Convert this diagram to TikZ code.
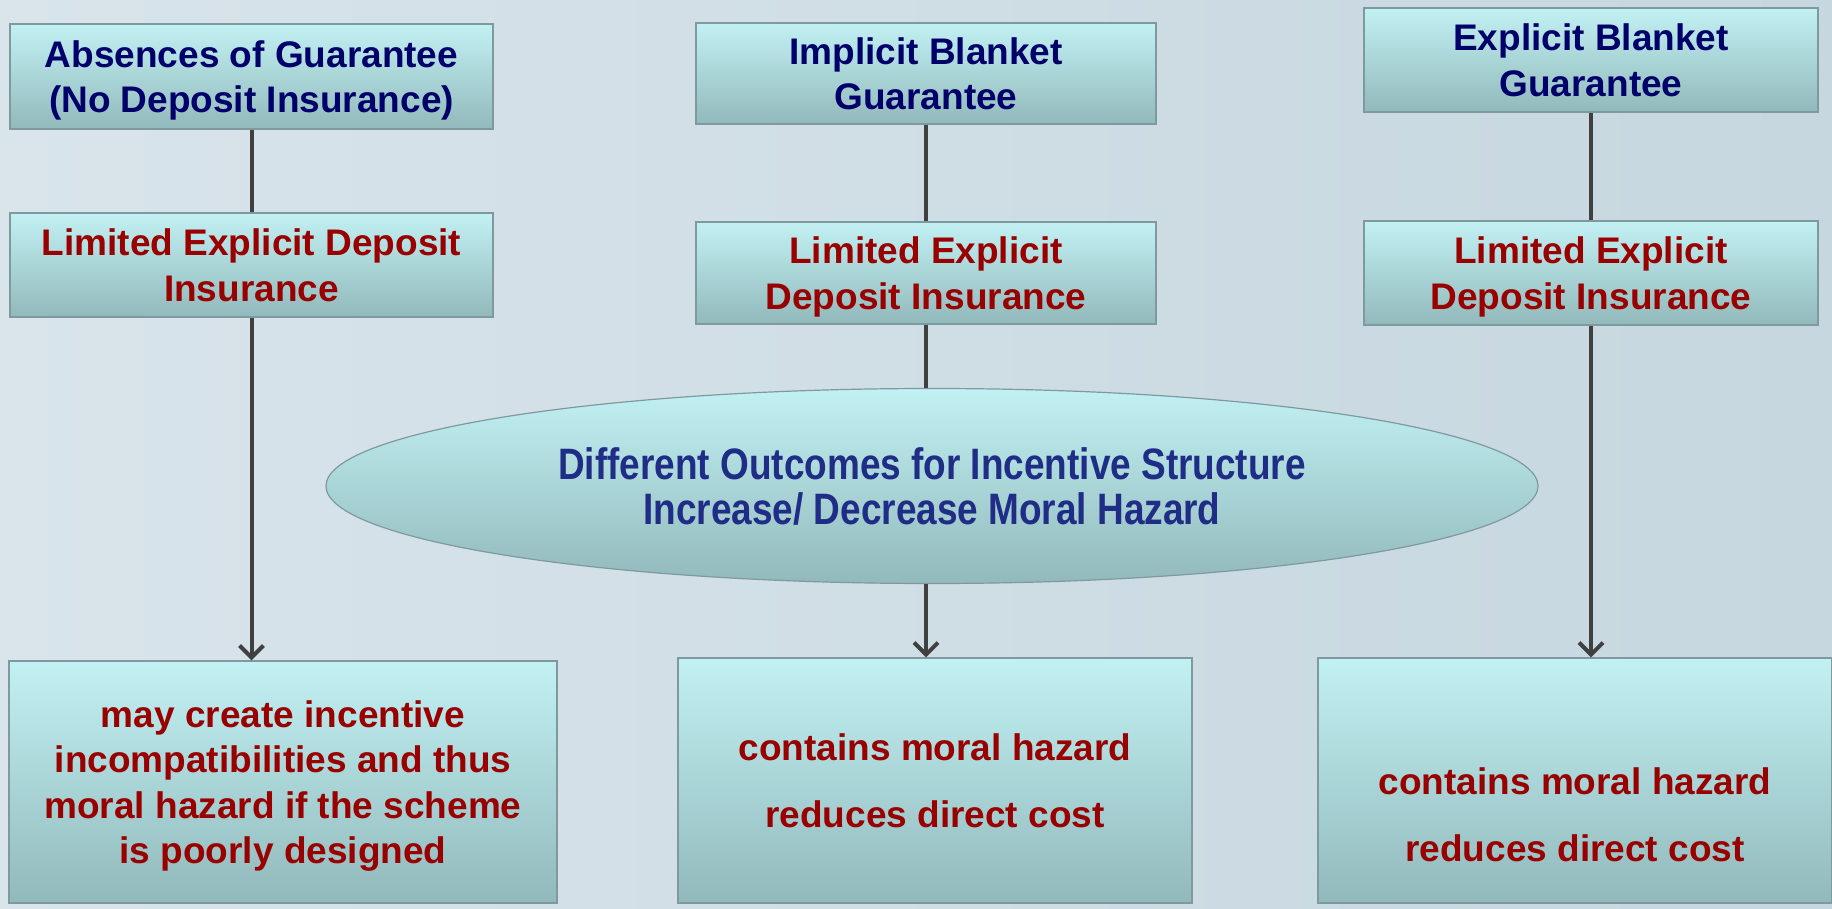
\documentclass[tikz,border=0pt]{standalone}
\usepackage{fontspec}
\setmainfont{Liberation Sans}
\newfontfamily\narrowfont{Liberation Sans}[FakeStretch=0.84]
\usetikzlibrary{arrows.meta,shapes.geometric}
\definecolor{bgleft}{HTML}{D9E4EB}
\definecolor{bgright}{HTML}{C6D7DF}
\definecolor{boxtop}{HTML}{C2F1F3}
\definecolor{boxbottom}{HTML}{92B9BC}
\definecolor{boxedge}{HTML}{7E9A9E}
\definecolor{navytext}{HTML}{00006A}
\definecolor{redtext}{HTML}{990000}
\definecolor{outcometext}{HTML}{1F2D86}
\definecolor{linkcolor}{HTML}{404040}
\tikzset{
    box color/.style={top color=boxtop,bottom color=boxbottom,draw=boxedge,line width=.6pt},
    box/.style={box color,rectangle,align=center,inner sep=0pt,text depth=0pt,
        font=\fontsize{18.5}{22.8}\selectfont\bfseries},
    guarantee/.style={box,text=navytext},
    scheme/.style={box,text=redtext},
    outcome box/.style={box color,ellipse,align=center,inner sep=0pt,text depth=0pt,text=outcometext,
        font=\narrowfont\fontsize{22}{22.5}\selectfont\bfseries},
    link/.style={draw=linkcolor,line width=2pt},
    arr/.style={link,-{Straight Barb[length=6pt,width=12pt]}},
}

\begin{document}
\begin{tikzpicture}[x=.5pt,y=-.5pt]
        \useasboundingbox (0,0) rectangle (1832,909);
        \shade[left color=bgleft,right color=bgright] (0,0) rectangle (1832,909);

        % top row: kind of guarantee
        \node[guarantee,minimum width=241.5pt,minimum height=52.5pt] (absence) at (251.5,76.5)
            {Absences of Guarantee\\(No Deposit Insurance)};
        \node[guarantee,minimum width=230pt,minimum height=50.5pt] (implicit) at (926,73.5)
            {Implicit Blanket\\Guarantee};
        \node[guarantee,minimum width=227pt,minimum height=52pt] (explicit) at (1591,60)
            {Explicit Blanket\\Guarantee};

        % second row: limited explicit deposit insurance
        \node[scheme,minimum width=241.5pt,minimum height=52pt] (limitA) at (251.5,265)
            {Limited Explicit Deposit\\Insurance};
        \node[scheme,minimum width=230pt,minimum height=51pt] (limitB) at (926,273)
            {Limited Explicit\\Deposit Insurance};
        \node[scheme,minimum width=227pt,minimum height=52pt] (limitC) at (1591,273)
            {Limited Explicit\\Deposit Insurance};

        \node[outcome box,minimum width=606pt,minimum height=97.5pt] (outcome) at (932,486)
            {Different Outcomes for Incentive Structure\\Increase/ Decrease Moral Hazard};

        % bottom row: results
        \node[scheme,minimum width=274pt,minimum height=121pt] (resultA) at (283,782)
            {may create incentive\\incompatibilities and thus\\moral hazard if the scheme\\is poorly designed};
        \node[scheme,minimum width=257pt,minimum height=122.5pt] (resultB) at (935,780.5)
            {contains moral hazard\\[10.5pt]reduces direct cost};
        \node[scheme,minimum width=257pt,minimum height=122.5pt] (resultC) at (1575,780.5)
            {\rule{0pt}{47.5pt}contains moral hazard\\[10.5pt]reduces direct cost};

        \draw[link] (absence) -- (limitA);
        \draw[arr] (limitA.south) -- (limitA.south |- resultA.north);
        \draw[link] (implicit) -- (limitB);
        \draw[link] (limitB.south) -- (limitB.south |- outcome.north);
        \draw[arr] (outcome.south -| limitB) -- (resultB.north -| limitB);
        \draw[link] (explicit) -- (limitC);
        \draw[arr] (limitC.south) -- (limitC.south |- resultC.north);
    \end{tikzpicture}
\end{document}
